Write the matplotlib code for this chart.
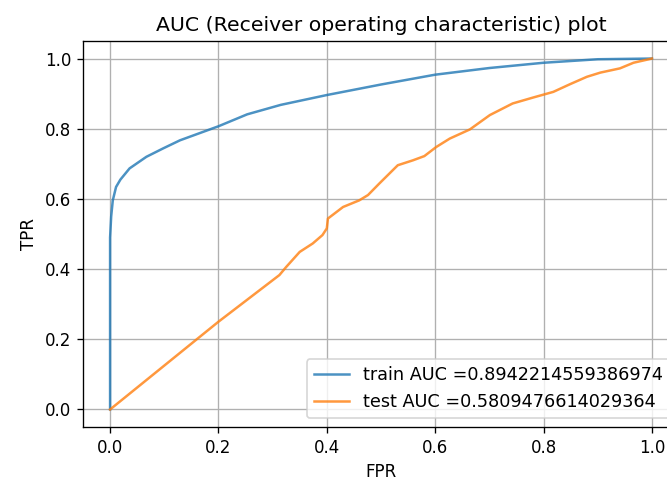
from matplotlib import pyplot as plt

# ROC points
train_fpr = [0.0, 0.0, 0.002, 0.005, 0.011, 0.019, 0.036, 0.067, 0.098, 0.129, 0.2, 0.253,
             0.315, 0.4, 0.5, 0.6, 0.7, 0.8, 0.9, 1.0]
train_tpr = [0.0, 0.49, 0.55, 0.596, 0.634, 0.655, 0.687, 0.72, 0.744, 0.767, 0.807, 0.841,
             0.868, 0.896, 0.926, 0.954, 0.973, 0.988, 0.998, 1.0]

test_fpr = [0.0, 0.2, 0.3125, 0.325, 0.35, 0.374, 0.392, 0.4, 0.402, 0.43, 0.46, 0.476,
            0.497, 0.531, 0.559, 0.58, 0.602, 0.627, 0.664, 0.701, 0.743, 0.781, 0.818,
            0.849, 0.88, 0.905, 0.941, 0.966, 1.0]
test_tpr = [0.0, 0.25, 0.383, 0.406, 0.449, 0.473, 0.497, 0.516, 0.544, 0.577, 0.596, 0.611,
            0.644, 0.696, 0.71, 0.722, 0.748, 0.772, 0.798, 0.839, 0.872, 0.889, 0.905,
            0.927, 0.948, 0.96, 0.972, 0.988, 1.0]

train_auc = 0.8942214559386974
test_auc = 0.5809476614029364

fig = plt.figure(figsize=(667 / 120, 481 / 120), dpi=120)
ax = fig.add_axes([83 / 667, 54 / 481, 596 / 667, 386 / 481])

ax.plot(train_fpr, train_tpr, alpha=0.8, label="train AUC =" + str(train_auc))
ax.plot(test_fpr, test_tpr, alpha=0.8, label="test AUC =" + str(test_auc))
ax.legend(loc='lower right', fontsize=10.6)
ax.set_xlabel("FPR")
ax.set_ylabel("TPR")
ax.set_title("AUC (Receiver operating characteristic) plot", fontsize=12.2)
ax.grid(True)

fig.savefig("out.png", dpi=120)
